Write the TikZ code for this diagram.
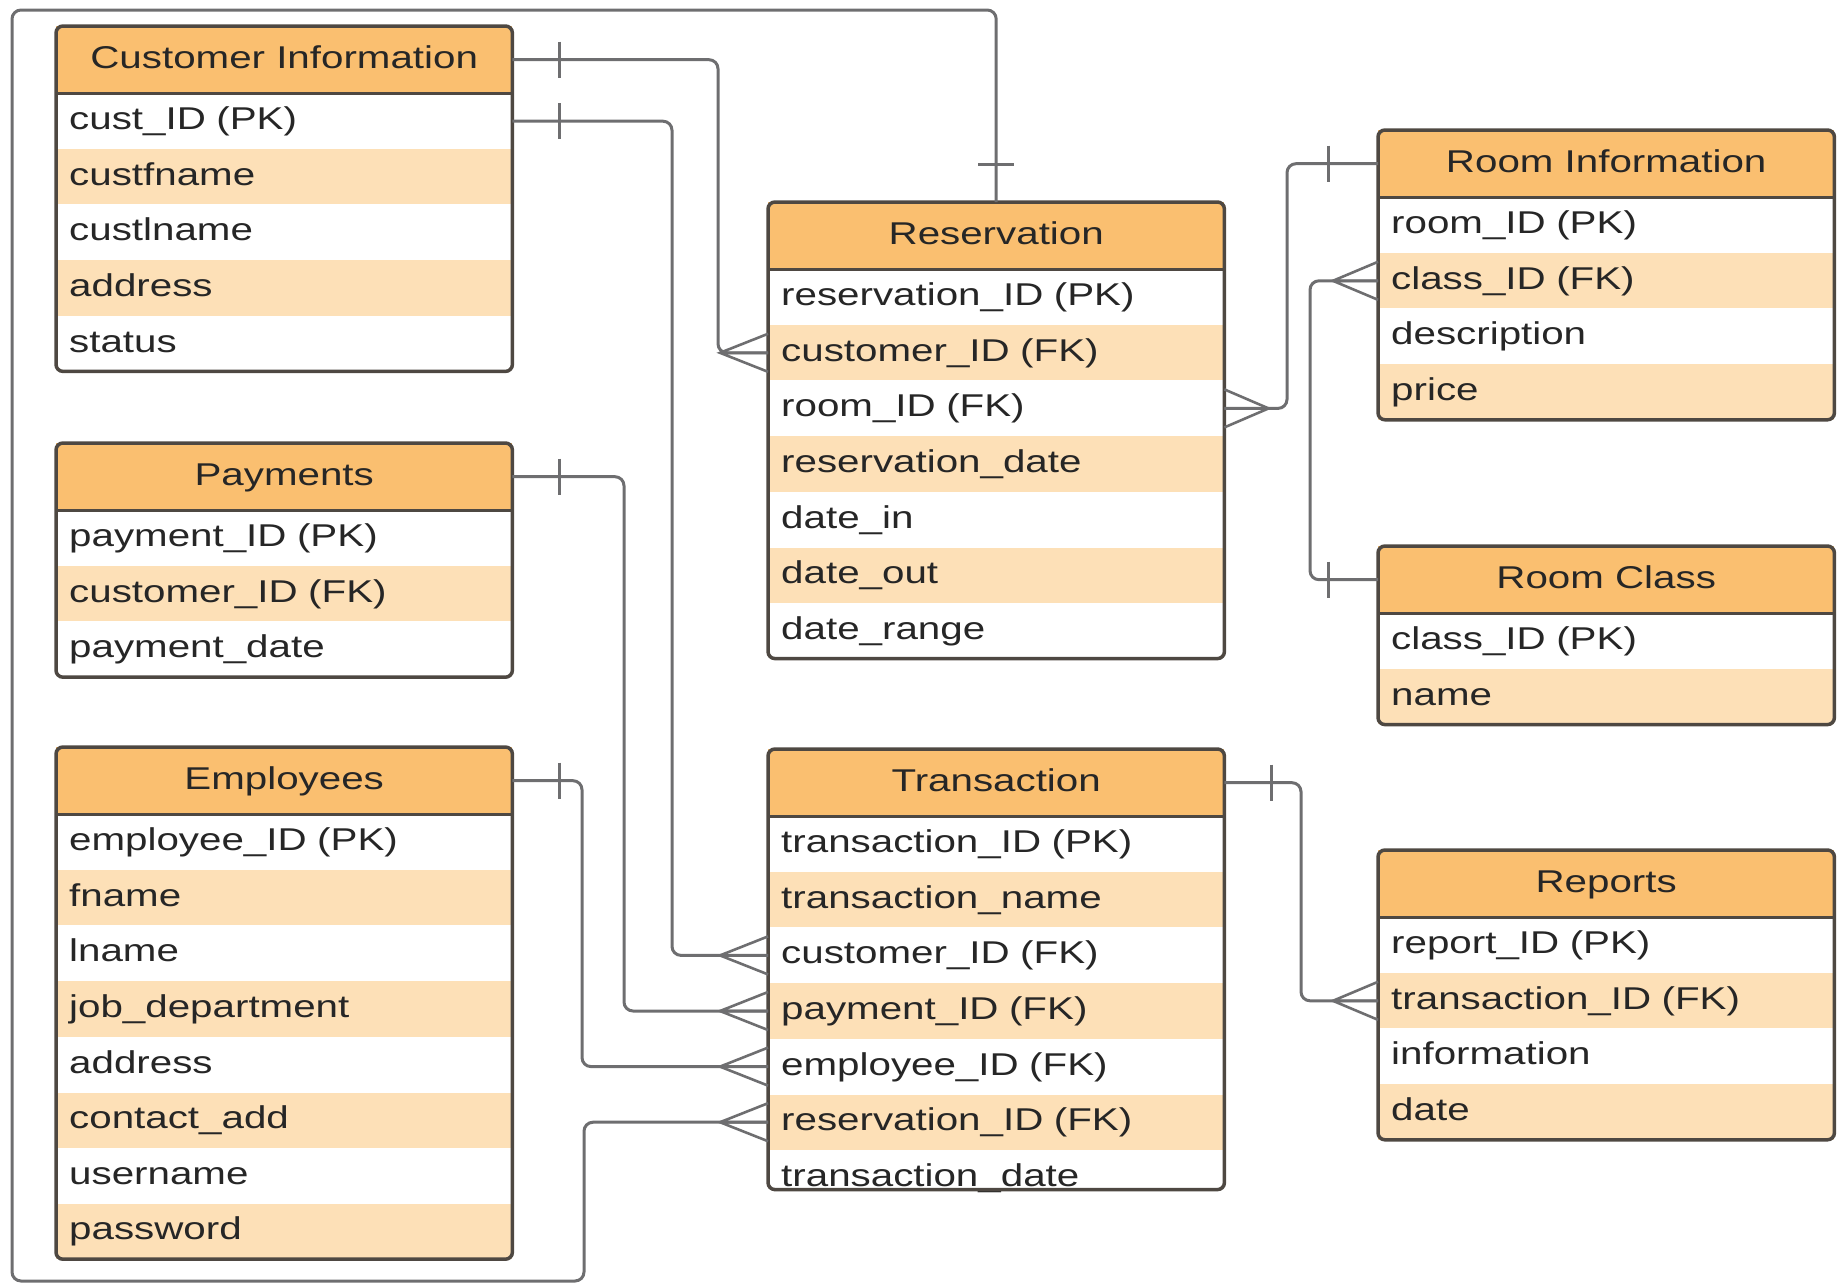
\documentclass[tikz,border=0pt]{standalone}
\usepackage{fontspec}
\setmainfont{Liberation Sans}[FakeStretch=1.28]
\usetikzlibrary{positioning}

\definecolor{hdrorange}{RGB}{250,191,112}
\definecolor{rowtint}{RGB}{253,224,183}
\definecolor{edgegray}{RGB}{78,72,66}
\definecolor{linkgray}{RGB}{110,110,112}

\newcommand*{\erfont}{\fontsize{31.5}{38}\selectfont}

\tikzset{
  tblhead/.style={minimum width=456pt, minimum height=67pt, inner sep=0pt,
    fill=hdrorange, font=\erfont, text=black!85,
    text height=23pt, text depth=6pt},
  tblrow/.style={minimum height=55.2pt, text width=430pt, inner xsep=13pt,
    inner ysep=0pt, align=left, font=\erfont, text=black!85,
    text height=23pt, text depth=6pt},
  tblline/.style={draw=edgegray, line width=3.5pt},
  rel/.style={draw=linkgray, line width=3pt, rounded corners=9pt},
  crowfoot/.pic={\draw[rel, rounded corners=0pt, line width=2.6pt]
    (0,-19) -- (-48,0) -- (0,19) (-48,0) -- (0,0);},
  onetick/.pic={\draw[rel, rounded corners=0pt] (0,-18) -- (0,18);}
}

% [trim]{name}{top left}{title}{fields}
\newcommand{\ertable}[5][0]{
  \node[tblhead, anchor=north west] (#2-0) at (#3) {#4};
  \foreach \fld [count=\i, remember=\i as \j (initially 0)] in {#5} {
    \ifodd\i \def\rowfill{white}\else \def\rowfill{rowtint}\fi
    \node[tblrow, fill=\rowfill, below=0pt of #2-\j] (#2-\i) {\fld};
    \xdef\lastrow{\i}
  }
  \draw[tblline] (#2-0.south west) -- (#2-0.south east);
  \draw[tblline, rounded corners=7pt] (#2-0.north west) rectangle ([yshift=#1pt]#2-\lastrow.south east);
}

\begin{document}
\begin{tikzpicture}[x={(1pt,0pt)}, y={(0pt,-1pt)}]
  \useasboundingbox (0,0) rectangle (1841,1286);

  \ertable{ci}{56,26}{Customer Information}{cust\_ID (PK), custfname, custlname, address, status}
  \ertable{pay}{56,443}{Payments}{payment\_ID (PK), customer\_ID (FK), payment\_date}
  \ertable{emp}{56,747}{Employees}{employee\_ID (PK), fname, lname, job\_department, address, contact\_add, username, password}
  \ertable{res}{768,202}{Reservation}{reservation\_ID (PK), customer\_ID (FK), room\_ID (FK), reservation\_date, date\_in, date\_out, date\_range}
  \ertable[16]{tr}{768,749}{Transaction}{transaction\_ID (PK), transaction\_name, customer\_ID (FK), payment\_ID (FK), employee\_ID (FK), reservation\_ID (FK), transaction\_date}
  \ertable{ri}{1378,130}{Room Information}{room\_ID (PK), class\_ID (FK), description, price}
  \ertable{rc}{1378,546}{Room Class}{class\_ID (PK), name}
  \ertable{rep}{1378,850}{Reports}{report\_ID (PK), transaction\_ID (FK), information, date}

  % relationships
  \draw[rel] (ci-0.east) -| ([xshift=-50pt]res-2.west) -- (res-2.west);
  \draw[rel] (ci-1.east) -| ([xshift=-96pt]tr-3.west) -- (tr-3.west);
  \draw[rel] (pay-0.east) -| ([xshift=-144pt]tr-4.west) -- (tr-4.west);
  \draw[rel] (emp-0.east) -| ([xshift=-186pt]tr-5.west) -- (tr-5.west);
  \draw[rel] (res-3.east) -| ([xshift=-91pt]ri-0.west) -- (ri-0.west);
  \draw[rel] (ri-2.west) -| ([xshift=-68pt]rc-0.west) -- (rc-0.west);
  \draw[rel] (tr-0.east) -| ([xshift=-77pt]rep-2.west) -- (rep-2.west);

  % reservation to transaction, round the outside
  \coordinate (frame-nw) at (12,10);
  \coordinate (frame-sw) at (12,1281);
  \coordinate (frame-se) at (584,1281);
  \draw[rel] (res-0.north) |- (frame-nw) -- (frame-sw) -- (frame-se)
    |- ([xshift=-50pt]tr-6.west) -- (tr-6.west);

  % one ends
  \foreach \n in {ci-0, ci-1, pay-0, emp-0, tr-0}
    \pic at ([xshift=47pt]\n.east) {onetick};
  \pic at ([xshift=-50pt]ri-0.west) {onetick};
  \pic at ([xshift=-50pt]rc-0.west) {onetick};
  \pic[rotate=90] at ([yshift=38pt]res-0.north) {onetick};

  % many ends
  \foreach \n in {res-2, tr-3, tr-4, tr-5, tr-6}
    \pic at (\n.west) {crowfoot};
  \pic[xscale=0.94] at (ri-2.west) {crowfoot};
  \pic[xscale=0.94] at (rep-2.west) {crowfoot};
  \pic[xscale=-0.92] at (res-3.east) {crowfoot};
\end{tikzpicture}
\end{document}
